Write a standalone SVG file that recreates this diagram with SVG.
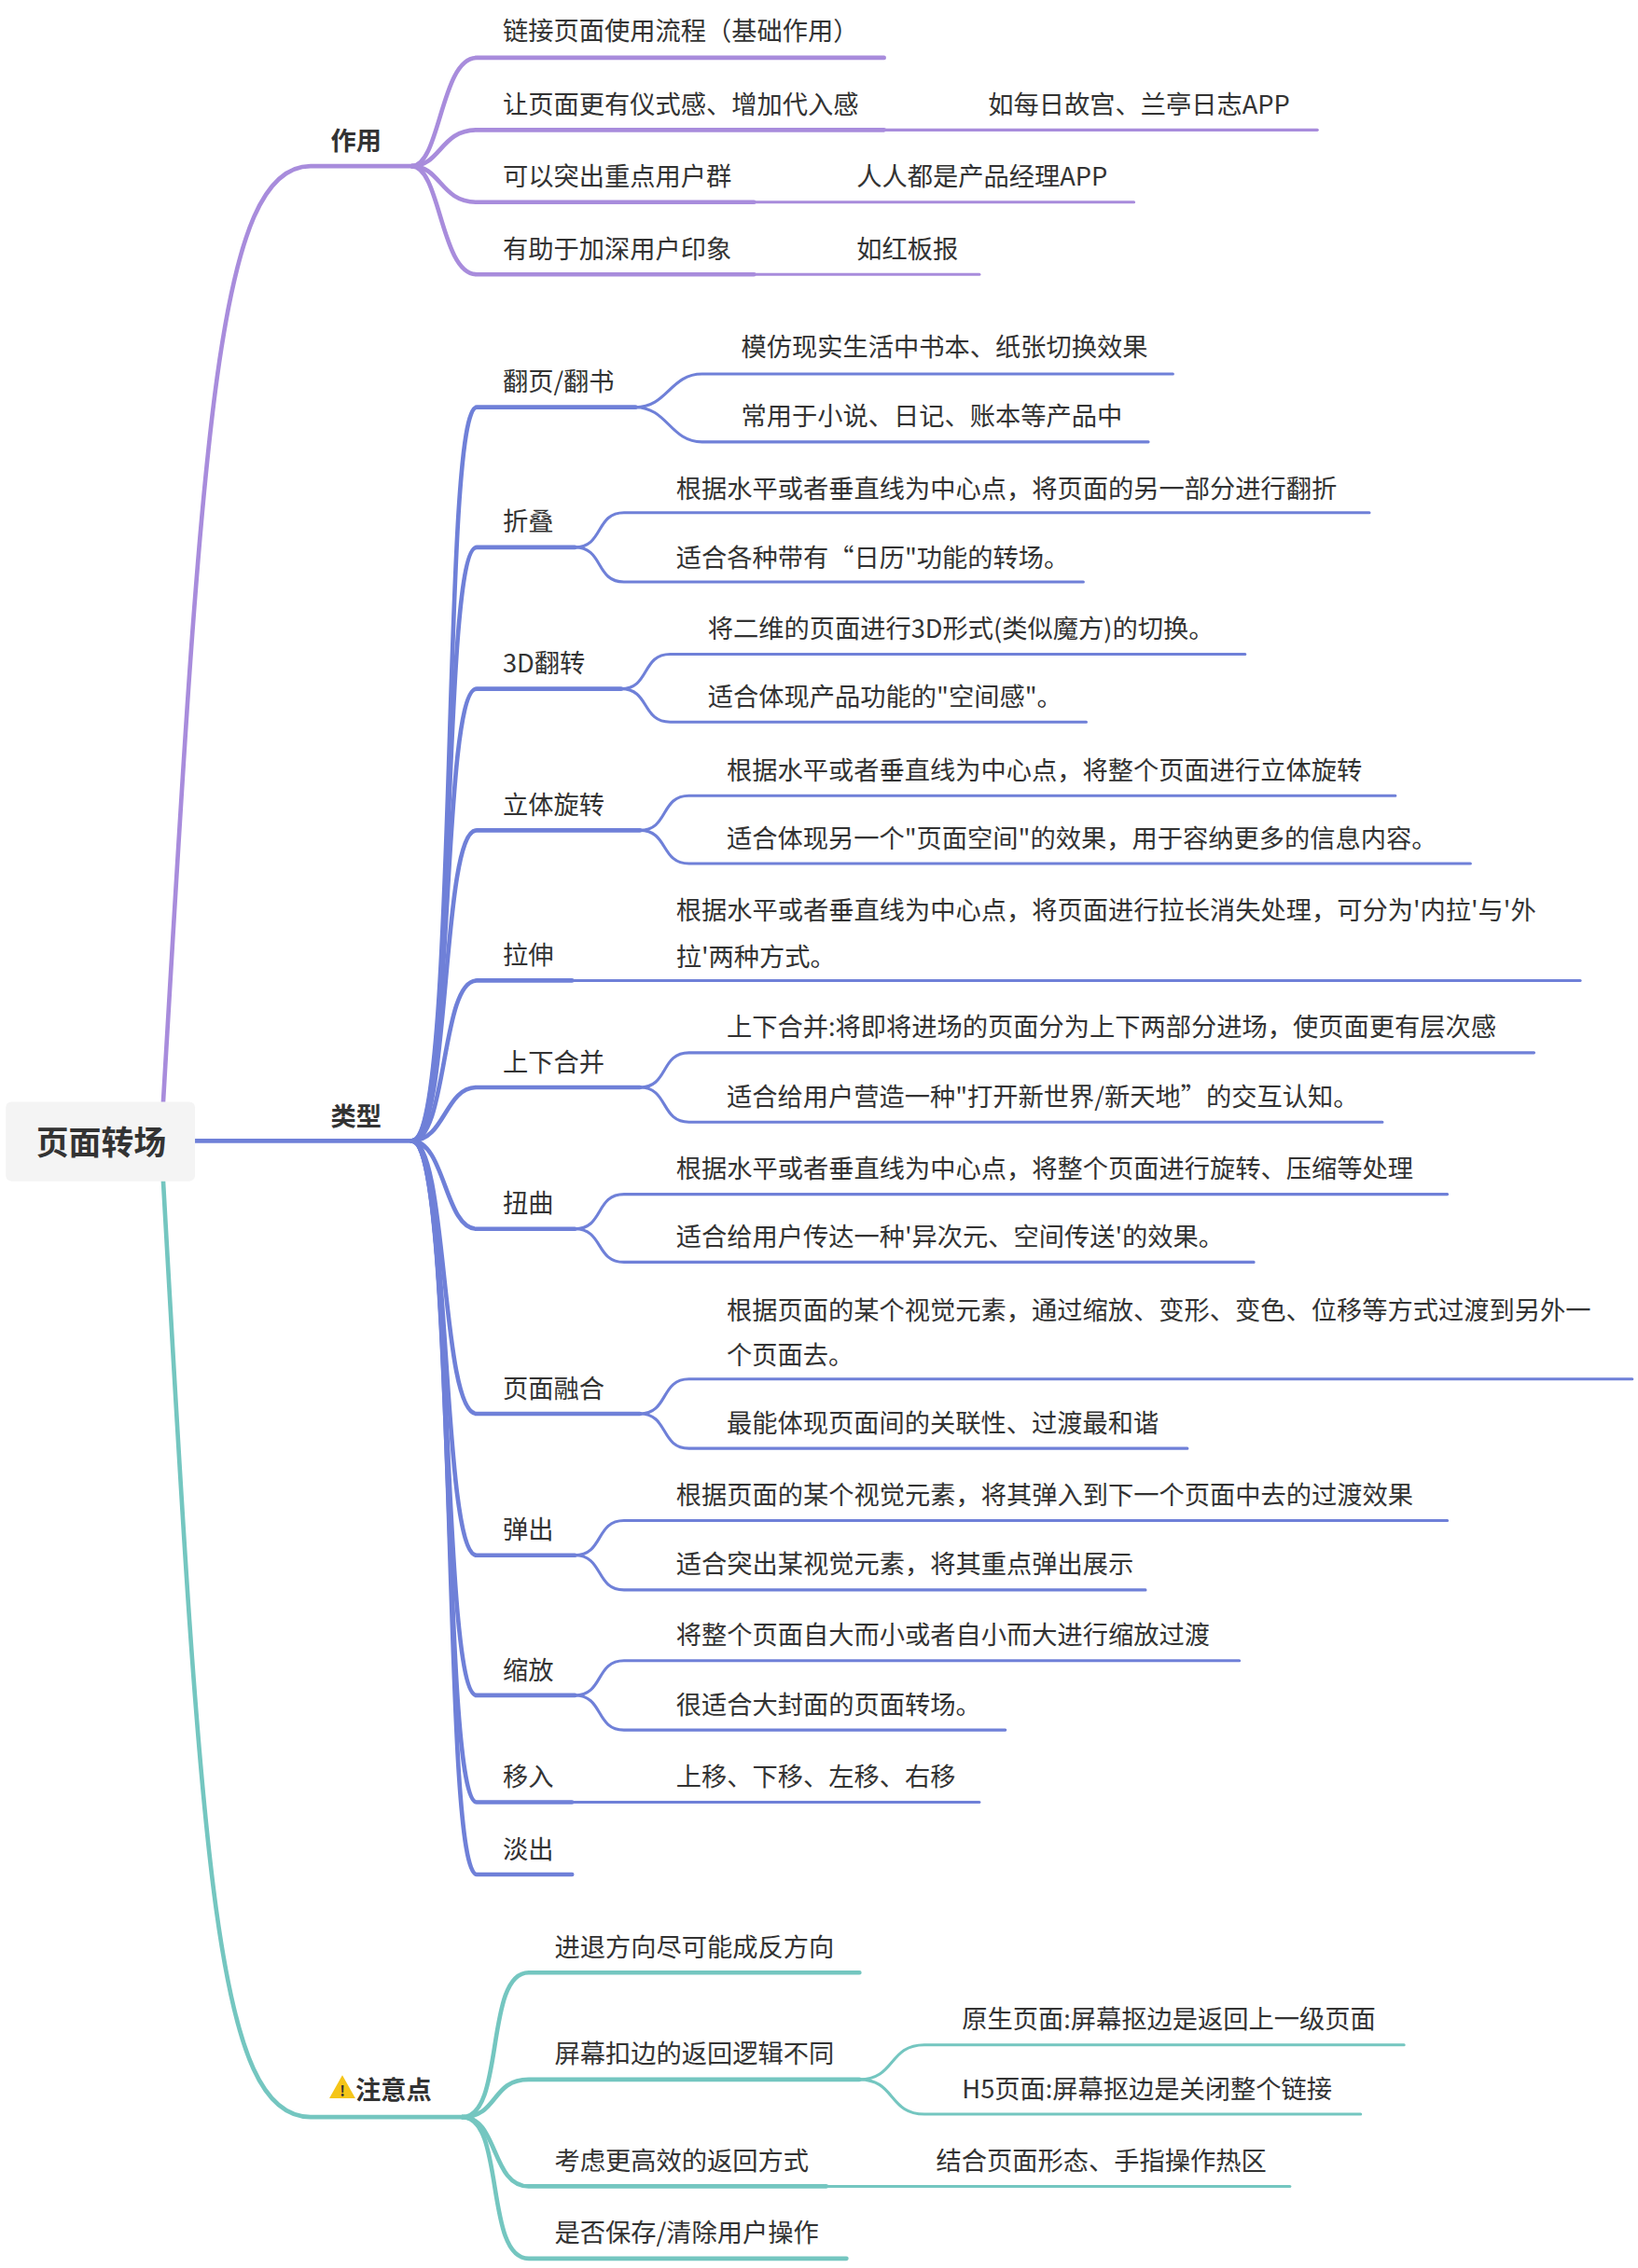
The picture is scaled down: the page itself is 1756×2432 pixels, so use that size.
<svg xmlns="http://www.w3.org/2000/svg" width="1756" height="2432" viewBox="0 0 1756 2432">
<style>
.t{font-family:"Noto Sans CJK SC","Noto Sans",sans-serif;font-size:17.6px;fill:#333;dominant-baseline:central}
.b{font-weight:bold}
.r{font-size:22.5px}
.x{font-size:10px}
.p{stroke:#a88cdc;fill:none;stroke-linecap:round}
.u{stroke:#6f80d8;fill:none;stroke-linecap:round}
.g{stroke:#74c6c0;fill:none;stroke-linecap:round}
.k{stroke-width:3}
.n{stroke-width:2}
</style>
<rect width="1756" height="2432" fill="#fff"/>
<g transform="scale(1.5485)">
<g id="connectors">
<path class="p k" d="M113 763 C140 300 150 115 215 115 L285 115"/>
<path class="u k" d="M135 790 L285 790"/>
<path class="g k" d="M113 818 C140 1300 150 1466 215 1466 L320 1466"/>
<path class="p k" d="M285 115 C305 115 305 40 330 40 L612 40"/>
<path class="p k" d="M285 115 C305 115 305 90 330 90 L612 90"/>
<path class="p n" d="M612 90 L912 90"/>
<path class="p k" d="M285 115 C305 115 305 140 330 140 L522 140"/>
<path class="p n" d="M522 140 L785 140"/>
<path class="p k" d="M285 115 C305 115 305 190 330 190 L522 190"/>
<path class="p n" d="M522 190 L678 190"/>
<path class="u k" d="M285 790 C318 790 305 282 330 282 L440 282"/>
<path class="u n" d="M440 282 C462 282 464 259 486 259 L812 259"/>
<path class="u n" d="M440 282 C462 282 464 306 486 306 L795 306"/>
<path class="u k" d="M285 790 C316 790 305 379 330 379 L398 379"/>
<path class="u n" d="M398 379 C418 379 412 355 432 355 L948 355"/>
<path class="u n" d="M398 379 C418 379 412 403 432 403 L750 403"/>
<path class="u k" d="M285 790 C314 790 305 477 330 477 L430 477"/>
<path class="u n" d="M430 477 C450 477 444 453 464 453 L862 453"/>
<path class="u n" d="M430 477 C450 477 444 500 464 500 L752 500"/>
<path class="u k" d="M285 790 C312 790 305 575 330 575 L443 575"/>
<path class="u n" d="M443 575 C463 575 457 551 477 551 L966 551"/>
<path class="u n" d="M443 575 C463 575 457 598 477 598 L1018 598"/>
<path class="u k" d="M285 790 C310 790 305 679 330 679 L396 679"/>
<path class="u n" d="M396 679 L1094 679"/>
<path class="u k" d="M285 790 C308 790 308 753 330 753 L443 753"/>
<path class="u n" d="M443 753 C463 753 457 729 477 729 L1062 729"/>
<path class="u n" d="M443 753 C463 753 457 777 477 777 L957 777"/>
<path class="u k" d="M285 790 C308 790 308 851 330 851 L398 851"/>
<path class="u n" d="M398 851 C418 851 412 827 432 827 L1002 827"/>
<path class="u n" d="M398 851 C418 851 412 874 432 874 L868 874"/>
<path class="u k" d="M285 790 C310 790 305 979 330 979 L443 979"/>
<path class="u n" d="M443 979 C463 979 457 955 477 955 L1130 955"/>
<path class="u n" d="M443 979 C463 979 457 1003 477 1003 L822 1003"/>
<path class="u k" d="M285 790 C312 790 305 1077 330 1077 L398 1077"/>
<path class="u n" d="M398 1077 C418 1077 412 1053 432 1053 L1002 1053"/>
<path class="u n" d="M398 1077 C418 1077 412 1101 432 1101 L793 1101"/>
<path class="u k" d="M285 790 C314 790 305 1174 330 1174 L398 1174"/>
<path class="u n" d="M398 1174 C418 1174 412 1150 432 1150 L858 1150"/>
<path class="u n" d="M398 1174 C418 1174 412 1198 432 1198 L696 1198"/>
<path class="u k" d="M285 790 C316 790 305 1248 330 1248 L396 1248"/>
<path class="u n" d="M396 1248 L678 1248"/>
<path class="u k" d="M285 790 C318 790 305 1298 330 1298 L396 1298"/>
<path class="g k" d="M320 1466 C350 1466 335 1366 366 1366 L595 1366"/>
<path class="g k" d="M320 1466 C345 1466 340 1440 366 1440 L595 1440"/>
<path class="g n" d="M595 1440 C620 1440 615 1416 640 1416 L972 1416"/>
<path class="g n" d="M595 1440 C620 1440 615 1464 640 1464 L942 1464"/>
<path class="g k" d="M320 1466 C345 1466 340 1514 366 1514 L572 1514"/>
<path class="g n" d="M572 1514 L893 1514"/>
<path class="g k" d="M320 1466 C350 1466 335 1564 366 1564 L586 1564"/>
</g>
<g id="root">
<rect x="4" y="763" width="131" height="55" rx="4" fill="#f4f4f4"/>
<text class="t b r" x="70" y="790" text-anchor="middle">页面转场</text>
</g>
<g id="n-zuoyong"><text class="t b" x="229" y="96">作用</text></g>
<g id="n-leixing"><text class="t b" x="229" y="772">类型</text></g>
<g id="n-zhuyi">
<path d="M237 1437 L246 1453 L228 1453 Z" fill="#f5c518"/>
<text class="t b x" x="237" y="1447" text-anchor="middle">!</text>
<text class="t b" x="246" y="1446">注意点</text>
</g>
<g id="zuoyong-children">
<text class="t" x="348" y="20">链接页面使用流程（基础作用）</text>
<text class="t" x="348" y="71">让页面更有仪式感、增加代入感</text>
<text class="t" x="684" y="71">如每日故宫、兰亭日志APP</text>
<text class="t" x="348" y="121">可以突出重点用户群</text>
<text class="t" x="593" y="121">人人都是产品经理APP</text>
<text class="t" x="348" y="171">有助于加深用户印象</text>
<text class="t" x="593" y="171">如红板报</text>
</g>
<g id="leixing-children">
<text class="t" x="348" y="263">翻页/翻书</text>
<text class="t" x="513" y="239">模仿现实生活中书本、纸张切换效果</text>
<text class="t" x="513" y="287">常用于小说、日记、账本等产品中</text>
<text class="t" x="348" y="360">折叠</text>
<text class="t" x="468" y="337">根据水平或者垂直线为中心点，将页面的另一部分进行翻折</text>
<text class="t" x="468" y="385">适合各种带有“日历"功能的转场。</text>
<text class="t" x="348" y="458">3D翻转</text>
<text class="t" x="490" y="434">将二维的页面进行3D形式(类似魔方)的切换。</text>
<text class="t" x="490" y="481">适合体现产品功能的"空间感"。</text>
<text class="t" x="348" y="556">立体旋转</text>
<text class="t" x="503" y="532">根据水平或者垂直线为中心点，将整个页面进行立体旋转</text>
<text class="t" x="503" y="579">适合体现另一个"页面空间"的效果，用于容纳更多的信息内容。</text>
<text class="t" x="348" y="660">拉伸</text>
<text class="t" x="468" y="629">根据水平或者垂直线为中心点，将页面进行拉长消失处理，可分为'内拉'与'外</text>
<text class="t" x="468" y="661">拉'两种方式。</text>
<text class="t" x="348" y="734">上下合并</text>
<text class="t" x="503" y="710">上下合并:将即将进场的页面分为上下两部分进场，使页面更有层次感</text>
<text class="t" x="503" y="758">适合给用户营造一种"打开新世界/新天地”的交互认知。</text>
<text class="t" x="348" y="832">扭曲</text>
<text class="t" x="468" y="808">根据水平或者垂直线为中心点，将整个页面进行旋转、压缩等处理</text>
<text class="t" x="468" y="855">适合给用户传达一种'异次元、空间传送'的效果。</text>
<text class="t" x="348" y="960">页面融合</text>
<text class="t" x="503" y="906">根据页面的某个视觉元素，通过缩放、变形、变色、位移等方式过渡到另外一</text>
<text class="t" x="503" y="937">个页面去。</text>
<text class="t" x="503" y="984">最能体现页面间的关联性、过渡最和谐</text>
<text class="t" x="348" y="1058">弹出</text>
<text class="t" x="468" y="1034">根据页面的某个视觉元素，将其弹入到下一个页面中去的过渡效果</text>
<text class="t" x="468" y="1082">适合突出某视觉元素，将其重点弹出展示</text>
<text class="t" x="348" y="1155">缩放</text>
<text class="t" x="468" y="1131">将整个页面自大而小或者自小而大进行缩放过渡</text>
<text class="t" x="468" y="1179">很适合大封面的页面转场。</text>
<text class="t" x="348" y="1229">移入</text>
<text class="t" x="468" y="1229">上移、下移、左移、右移</text>
<text class="t" x="348" y="1279">淡出</text>
</g>
<g id="zhuyi-children">
<text class="t" x="384" y="1347">进退方向尽可能成反方向</text>
<text class="t" x="384" y="1421">屏幕扣边的返回逻辑不同</text>
<text class="t" x="666" y="1397">原生页面:屏幕抠边是返回上一级页面</text>
<text class="t" x="666" y="1445">H5页面:屏幕抠边是关闭整个链接</text>
<text class="t" x="384" y="1495">考虑更高效的返回方式</text>
<text class="t" x="648" y="1495">结合页面形态、手指操作热区</text>
<text class="t" x="384" y="1545">是否保存/清除用户操作</text>
</g>
</g>
</svg>
